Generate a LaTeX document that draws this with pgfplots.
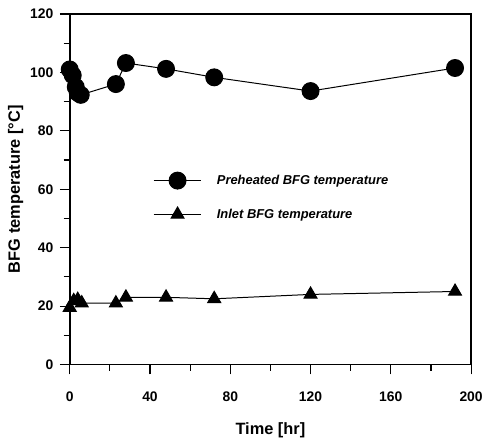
\documentclass[border=0pt]{standalone}
\usepackage{pgfplots}
\pgfplotsset{compat=1.18}
\usepackage{fontspec}
\setmainfont{Liberation Sans}
\begin{document}
\begin{tikzpicture}
\begin{axis}[
  scale only axis,
  width=403bp, height=352bp,
  xmin=0, xmax=200, ymin=0, ymax=120,
  xtick={0,40,...,200}, ytick={0,20,...,120},
  minor xtick={20,60,...,180}, minor ytick={10,30,...,110},
  tick align=outside,
  xtick pos=bottom, ytick pos=left,
  major tick length=10bp, minor tick length=6bp,
  every tick/.style={black, line width=1.2bp},
  axis line style={line width=1.6bp},
  /pgf/number format/assume math mode=true,
  ticklabel style={font=\fontsize{14}{16}\selectfont\bfseries},
  xticklabel style={yshift=-14bp},
  yticklabel style={xshift=-3bp},
  xlabel={Time [hr]},
  ylabel={BFG temperature [\textdegree C]},
  label style={font=\fontsize{16.5}{18}\selectfont\bfseries},
  xlabel style={yshift=-14bp},
  ylabel style={yshift=0bp},
  legend style={draw=none, fill=none, at={(axis cs:40,66.6)}, anchor=north west,
    font=\fontsize{13}{15}\selectfont\bfseries\itshape, row sep=18bp,
    /tikz/every odd column/.append style={column sep=13bp}},
  legend cell align=left,
  legend image code/.code={\draw[mark repeat=2,mark phase=2,#1] plot coordinates {(0bp,0bp) (24bp,0bp) (48bp,0bp)};},
]
\addplot[black, line width=1bp, mark=*, mark size=8.5bp, mark options={solid}]
  coordinates {(0,101) (1.5,99) (3,95) (4,93) (5.5,92.3) (23,96) (28,103.2) (48,101.2) (72,98.3) (120,93.6) (192,101.5)};
\addlegendentry{Preheated BFG temperature}
\addplot[black, line width=1bp, mark=triangle*, mark size=7.5bp, mark options={solid}]
  coordinates {(0,19.5) (2,21.8) (4,22.2) (6,21) (23,21) (28,23) (48,23) (72,22.5) (120,24) (192,25)};
\addlegendentry{Inlet BFG temperature}
\end{axis}
\path (-70bp,-73bp) rectangle (416bp,366bp);
\end{tikzpicture}
\end{document}
